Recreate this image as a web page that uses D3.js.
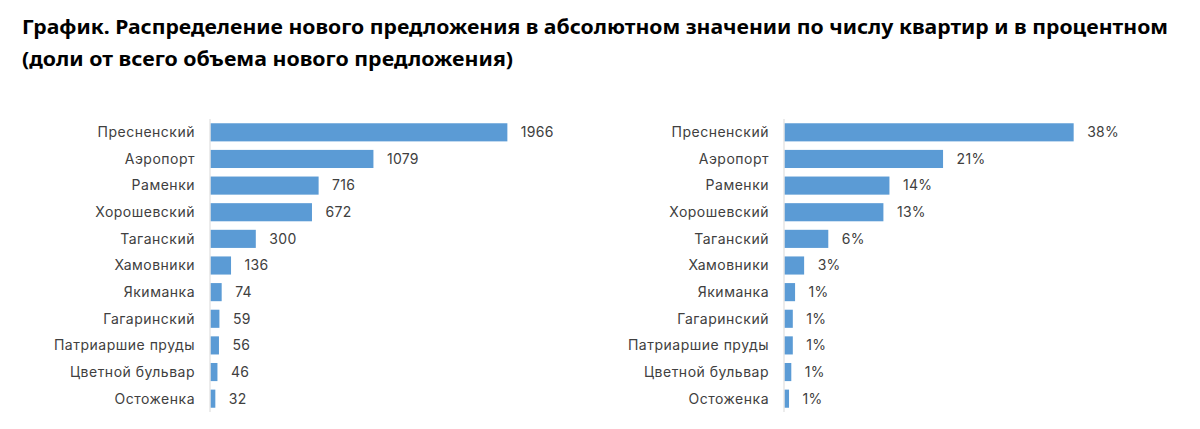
<!DOCTYPE html>
<html>
<head>
<meta charset="utf-8">
<script src="https://cdn.jsdelivr.net/npm/d3@7"></script>
<style>
	body{ margin:0; background:#fff; }
	svg text{ font-family: "Inter", "Noto Sans", sans-serif; }
	.title{ font-family: "Noto Sans", sans-serif !important; font-weight:bold; font-size:20px; fill:#000; }
	.cat{ font-size:14px; fill:#404040; letter-spacing:0.5px; }
	.val{ font-size:14px; fill:#404040; letter-spacing:0.3px; }
	.bar{ fill:#5B9BD5; }
	.axis-line{ stroke:#d9d9d9; stroke-width:1; }
</style>
</head>
<body>
<svg id="chart" width="1200" height="429"></svg>
<script>
var districts = ["Пресненский", "Аэропорт", "Раменки", "Хорошевский", "Таганский", "Хамовники",
	"Якиманка", "Гагаринский", "Патриаршие пруды", "Цветной бульвар", "Остоженка"];
var flats = [1966, 1079, 716, 672, 300, 136, 74, 59, 56, 46, 32];
var shares = [0.383, 0.210, 0.139, 0.131, 0.058, 0.026, 0.014, 0.011, 0.011, 0.009, 0.006];
var titleLines = [
	"График. Распределение нового предложения в абсолютном значении по числу квартир и в процентном",
	"(доли от всего объема нового предложения)"
];

var svg = d3.select("#chart");

svg.selectAll(".title").data(titleLines).enter().append("text")
		.attr("class", "title")
		.attr("x", 22)
		.attr("y", function(d, i){ return 34 + i * 32; })
		.attr("textLength", function(d, i){ return i === 0 ? 1146 : 491; })
		.attr("lengthAdjust", "spacingAndGlyphs")
		.text(function(d){ return d; });

function drawPanel(axisX, values, maxV, fmt){
	var g = svg.append("g").attr("transform", "translate(" + axisX + ",0)");
	var y = d3.scaleBand().domain(districts).range([119, 412]).paddingInner(0.32).paddingOuter(0.16);
	var x = d3.scaleLinear().domain([0, maxV]).range([0, 302]);
	var items = districts.map(function(name, i){ return {name: name, v: values[i]}; });

	g.selectAll(".bar").data(items).enter().append("rect")
			.attr("class", "bar")
			.attr("x", 0.5)
			.attr("y", function(d){ return y(d.name); })
			.attr("width", function(d){ return x(d.v); })
			.attr("height", y.bandwidth());

	g.append("line").attr("class", "axis-line")
			.attr("x1", 0).attr("x2", 0)
			.attr("y1", y.range()[0]).attr("y2", y.range()[1]);

	g.selectAll(".cat").data(items).enter().append("text")
			.attr("class", "cat")
			.attr("x", -15)
			.attr("y", function(d){ return y(d.name) + y.bandwidth() / 2; })
			.attr("dy", "0.35em")
			.attr("text-anchor", "end")
			.text(function(d){ return d.name; });

	g.selectAll(".val").data(items).enter().append("text")
			.attr("class", "val")
			.attr("x", function(d){ return x(d.v) + 14; })
			.attr("y", function(d){ return y(d.name) + y.bandwidth() / 2; })
			.attr("dy", "0.35em")
			.text(function(d){ return fmt(d.v); });
}

drawPanel(210, flats, 2000, d3.format("d"));
drawPanel(784, shares, 0.4, d3.format(".0%"));
</script>
</body>
</html>
